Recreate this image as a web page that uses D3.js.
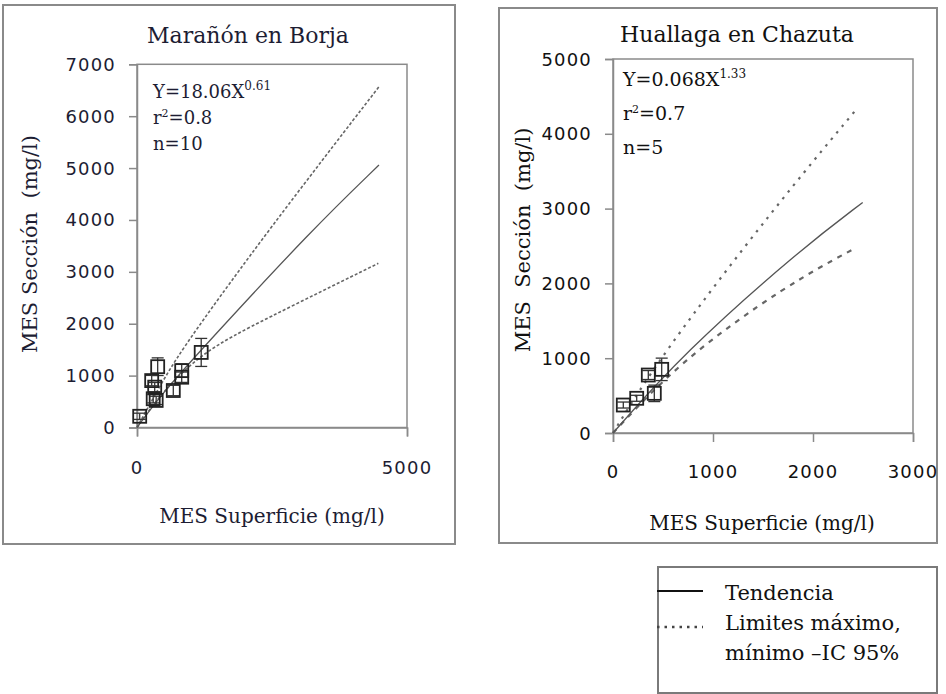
<!DOCTYPE html>
<html>
<head>
<meta charset="utf-8">
<script src="https://cdn.jsdelivr.net/npm/d3@7"></script>
<style>
  body { margin: 0; background: #fff; }
  .serif { font-family: "DejaVu Serif", serif; }
  .tick-label { font-family: "DejaVu Sans", sans-serif; font-size: 18px; letter-spacing: 1.2px; }
</style>
</head>
<body>
<div id="canvas"></div>
<script>
// --- data
// Marañón en Borja
var borjaX   = [50, 383, 272, 328, 300, 355, 828, 828, 672, 1189];
var borjaY   = [216, 1172, 904, 778, 554, 522, 1096, 969, 713, 1447];
var borjaErr = [60, 170, 100, 90, 80, 80, 130, 100, 100, 270];
var borjaTrend = [[0, 0], [500, 700], [1352, 1686], [3235, 3805], [4481, 5058]];
var borjaUpper = [[0, 0], [500, 950], [950, 1686], [2432, 3805], [4481, 6567]];
var borjaLower = [[0, 0], [400, 600], [1189, 1450], [2339, 2071], [4469, 3164]];
var borjaXTicks = [0, 5000];
var borjaYTicks = [0, 1000, 2000, 3000, 4000, 5000, 6000, 7000];

// Huallaga en Chazuta
var chazutaX   = [103, 237, 353, 413, 487];
var chazutaY   = [374, 464, 775, 530, 851];
var chazutaErr = [40, 40, 60, 110, 150];
var chazutaTrend = [[0, 0], [703, 1066], [1870, 2447], [2497, 3082]];
var chazutaUpper = [[0, 0], [470, 1020], [1620, 3025], [2437, 4332]];
var chazutaLower = [[0, 0], [670, 960], [1737, 1979], [2420, 2469]];
var chazutaXTicks = [0, 1000, 2000, 3000];
var chazutaYTicks = [0, 1000, 2000, 3000, 4000, 5000];

var legendLabels = ['Tendencia', 'Limites máximo,', 'mínimo –IC 95%'];

var svg = d3.select('#canvas')
  .append('svg')
  .attr('width', 946)
  .attr('height', 694)
  .style('background', '#fff');

// --- one panel
function drawPanel(p) {
  var g = svg.append('g');

  // outer border
  g.append('rect')
    .attr('x', p.box[0]).attr('y', p.box[1])
    .attr('width', p.box[2] - p.box[0]).attr('height', p.box[3] - p.box[1])
    .style('fill', 'none').style('stroke', '#8a8a8a').style('stroke-width', 2);

  var x = d3.scaleLinear().domain(p.xDomain).range(p.xRange);
  var y = d3.scaleLinear().domain(p.yDomain).range(p.yRange);

  // plot frame
  g.append('rect')
    .attr('x', p.xRange[0]).attr('y', p.yRange[1])
    .attr('width', p.xRange[1] - p.xRange[0]).attr('height', p.yRange[0] - p.yRange[1])
    .style('fill', 'none').style('stroke', '#8a8a8a').style('stroke-width', 1.5);

  // axes
  var xAxis = g.append('g')
    .attr('transform', 'translate(0,' + p.yRange[0] + ')')
    .call(d3.axisBottom(x).tickValues(p.xTicks).tickSize(9).tickFormat(''));
  var yAxis = g.append('g')
    .attr('transform', 'translate(' + p.xRange[0] + ',0)')
    .call(d3.axisLeft(y).tickValues(p.yTicks).tickSize(8).tickFormat(''));
  [xAxis, yAxis].forEach(function(a) {
    a.select('.domain').style('stroke', '#8a8a8a').style('stroke-width', 1.5);
    a.selectAll('.tick line').style('stroke', '#8a8a8a').style('stroke-width', 1.5);
  });

  // tick labels
  g.selectAll('.xlab').data(p.xTicks).enter().append('text')
    .attr('class', 'tick-label')
    .attr('x', function(d) { return x(d); })
    .attr('y', p.yRange[0] + p.xLabelDy)
    .attr('text-anchor', 'middle')
    .style('fill', p.ink)
    .text(function(d) { return d; });
  g.selectAll('.ylab').data(p.yTicks).enter().append('text')
    .attr('class', 'tick-label')
    .attr('x', p.xRange[0] - 21)
    .attr('y', function(d) { return y(d) + 6.5; })
    .attr('text-anchor', 'end')
    .style('fill', p.ink)
    .text(function(d) { return d; });

  // titles
  g.append('text').attr('class', 'serif')
    .attr('x', p.titlePos[0]).attr('y', p.titlePos[1])
    .attr('text-anchor', 'middle')
    .style('font-size', '22px').style('fill', p.ink)
    .text(p.title);
  g.append('text').attr('class', 'serif')
    .attr('x', p.xTitlePos[0]).attr('y', p.xTitlePos[1])
    .attr('text-anchor', 'middle')
    .style('font-size', '20px').style('fill', p.ink)
    .text(p.xTitle);
  g.append('text').attr('class', 'serif')
    .attr('transform', 'translate(' + p.yTitlePos[0] + ',' + p.yTitlePos[1] + ') rotate(-90)')
    .attr('text-anchor', 'middle')
    .style('font-size', '21px').style('fill', p.ink)
    .style('white-space', 'pre')
    .text(p.yTitle);

  // equation block
  var eq = g.append('text').attr('class', 'serif')
    .attr('x', p.eqPos[0]).attr('y', p.eqPos[1])
    .style('font-size', p.eqSize + 'px').style('fill', p.ink);
  eq.append('tspan').text(p.eq[0]);
  eq.append('tspan').attr('dy', -8).style('font-size', '12px').text(p.eq[1]);
  var r2 = g.append('text').attr('class', 'serif')
    .attr('x', p.eqPos[0]).attr('y', p.eqPos[1] + p.eqGap)
    .style('font-size', p.eqSize + 'px').style('fill', p.ink);
  r2.append('tspan').text('r');
  r2.append('tspan').attr('dy', -7).style('font-size', '11px').text('2');
  r2.append('tspan').attr('dy', 7).text('=' + p.r2);
  g.append('text').attr('class', 'serif')
    .attr('x', p.eqPos[0]).attr('y', p.eqPos[1] + 2 * p.eqGap)
    .style('font-size', p.eqSize + 'px').style('fill', p.ink)
    .text('n=' + p.n);

  // curves
  var line = d3.line()
    .x(function(d) { return x(d[0]); })
    .y(function(d) { return y(d[1]); })
    .curve(d3.curveBasis);
  g.append('path').attr('d', line(p.upper))
    .style('fill', 'none').style('stroke', '#666').style('stroke-width', p.dashW)
    .style('stroke-dasharray', p.upperDash);
  g.append('path').attr('d', line(p.lower))
    .style('fill', 'none').style('stroke', '#666').style('stroke-width', p.dashW)
    .style('stroke-dasharray', p.lowerDash);
  g.append('path').attr('d', line(p.trend))
    .style('fill', 'none').style('stroke', '#555').style('stroke-width', 1.3);

  // error bars + squares
  var pts = p.px.map(function(v, i) { return { x: v, y: p.py[i], e: p.pe[i] }; });
  var eb = g.selectAll('.eb').data(pts).enter().append('g');
  eb.append('line')
    .attr('x1', function(d) { return x(d.x); }).attr('x2', function(d) { return x(d.x); })
    .attr('y1', function(d) { return y(d.y - d.e); }).attr('y2', function(d) { return y(d.y + d.e); })
    .style('stroke', '#333').style('stroke-width', 1.3);
  [-1, 1].forEach(function(s) {
    eb.append('line')
      .attr('x1', function(d) { return x(d.x) - 6; }).attr('x2', function(d) { return x(d.x) + 6; })
      .attr('y1', function(d) { return y(d.y + s * d.e); }).attr('y2', function(d) { return y(d.y + s * d.e); })
      .style('stroke', '#333').style('stroke-width', 1.3);
  });
  g.selectAll('.pt').data(pts).enter().append('rect')
    .attr('x', function(d) { return x(d.x) - 6.5; })
    .attr('y', function(d) { return y(d.y) - 6.5; })
    .attr('width', 13).attr('height', 13)
    .style('fill', 'none').style('stroke', '#222').style('stroke-width', 1.8);
}

drawPanel({
  box: [3, 5, 455, 544],
  xDomain: [0, 5000], xRange: [137, 407],
  yDomain: [0, 7000], yRange: [427.5, 64.3],
  xTicks: borjaXTicks, yTicks: borjaYTicks, xLabelDy: 46,
  ink: '#1d1d33',
  title: 'Marañón en Borja', titlePos: [248, 43],
  xTitle: 'MES Superficie  (mg/l)', xTitlePos: [272, 523],
  yTitle: 'MES Sección  (mg/l)', yTitlePos: [37, 244],
  eq: ['Y=18.06X', '0.61'], eqPos: [153, 98], eqGap: 26, eqSize: 18, r2: '0.8', n: 10,
  upper: borjaUpper, lower: borjaLower, trend: borjaTrend,
  upperDash: '3,2', lowerDash: '3,2', dashW: 1.6,
  px: borjaX, py: borjaY, pe: borjaErr
});

drawPanel({
  box: [499, 8, 937, 543],
  xDomain: [0, 3000], xRange: [613, 913],
  yDomain: [0, 5000], yRange: [433, 59],
  xTicks: chazutaXTicks, yTicks: chazutaYTicks, xLabelDy: 45,
  ink: '#111',
  title: 'Huallaga en Chazuta', titlePos: [737, 42],
  xTitle: 'MES Superficie (mg/l)', xTitlePos: [762, 530],
  yTitle: 'MES  Sección  (mg/l)', yTitlePos: [530, 240],
  eq: ['Y=0.068X', '1.33'], eqPos: [623, 86], eqGap: 34, eqSize: 19, r2: '0.7', n: 5,
  upper: chazutaUpper, lower: chazutaLower, trend: chazutaTrend,
  upperDash: '2.5,6', lowerDash: '5,6', dashW: 2.2,
  px: chazutaX, py: chazutaY, pe: chazutaErr
});

// --- legend
var lg = svg.append('g');
lg.append('rect')
  .attr('x', 658).attr('y', 567).attr('width', 279).attr('height', 126)
  .style('fill', '#fff').style('stroke', '#7a7a7a').style('stroke-width', 2);
lg.append('line').attr('x1', 657).attr('x2', 703).attr('y1', 591).attr('y2', 591)
  .style('stroke', '#111').style('stroke-width', 2);
lg.append('line').attr('x1', 657).attr('x2', 703).attr('y1', 627).attr('y2', 627)
  .style('stroke', '#444').style('stroke-width', 2.5).style('stroke-dasharray', '2.5,5');
lg.selectAll('.lgt').data(legendLabels).enter().append('text')
  .attr('class', 'serif')
  .attr('x', 725)
  .attr('y', function(d, i) { return 600 + i * 30; })
  .style('font-size', '21px').style('fill', '#111')
  .text(function(d) { return d; });
</script>
</body>
</html>
